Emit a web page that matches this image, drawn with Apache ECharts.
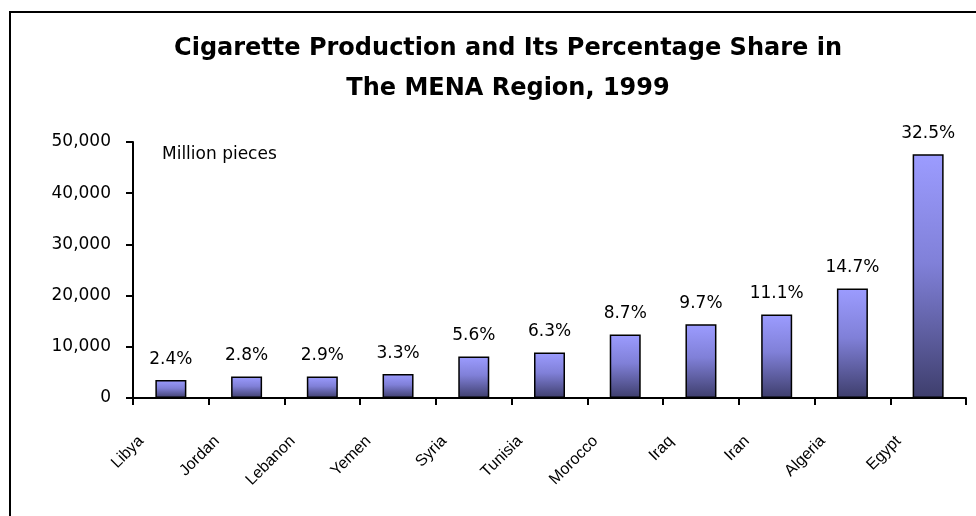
<!DOCTYPE html>
<html>
<head>
<meta charset="utf-8">
<script src="https://cdn.jsdelivr.net/npm/echarts@6/dist/echarts.min.js"></script>
<style>
html, body { margin: 0; padding: 0; background: #ffffff; }
#chart { width: 976px; height: 516px; }
</style>
</head>
<body>
<div id="chart"></div>
<script>
const countries = ['Libya', 'Jordan', 'Lebanon', 'Yemen', 'Syria', 'Tunisia', 'Morocco', 'Iraq', 'Iran', 'Algeria', 'Egypt'];
const production = [3500, 4200, 4200, 4700, 8100, 8900, 12400, 14400, 16300, 21400, 47600];
const shareLabels = ['2.4%', '2.8%', '2.9%', '3.3%', '5.6%', '6.3%', '8.7%', '9.7%', '11.1%', '14.7%', '32.5%'];
const yTicks = [0, 10000, 20000, 30000, 40000, 50000];

const chart = echarts.init(document.getElementById('chart'));

const barColor = new echarts.graphic.LinearGradient(0, 0, 0, 1, [
    { offset: 0, color: '#9c9cff' },
    { offset: 0.45, color: '#8080d8' },
    { offset: 1, color: '#3e3e6c' }
]);

var option = {
    backgroundColor: '#ffffff',
    animation: false,
    title: {
        text: 'Cigarette Production and Its Percentage Share in\nThe MENA Region, 1999',
        left: 503,
        top: 24,
        textAlign: 'center',
        textStyle: {
            fontFamily: 'DejaVu Sans',
            fontWeight: 'bold',
            fontSize: 24,
            lineHeight: 40,
            color: '#000000'
        }
    },
    graphic: [
        {
            type: 'rect',
            shape: { x: 10, y: 12, width: 1100, height: 700 },
            style: { fill: 'none', stroke: '#000000', lineWidth: 2 },
            silent: true
        },
        {
            type: 'text',
            left: 162,
            top: 146,
            style: {
                text: 'Million pieces',
                fontFamily: 'DejaVu Sans',
                fontSize: 17,
                fill: '#000000'
            }
        }
    ],
    grid: {
        left: 133,
        right: 10,
        top: 142,
        bottom: 118
    },
    xAxis: {
        type: 'category',
        data: countries,
        axisLine: { lineStyle: { color: '#000000', width: 2 } },
        axisTick: { show: true, length: 7, lineStyle: { color: '#000000', width: 2 } },
        axisLabel: {
            rotate: 45,
            interval: 0,
            margin: 11,
            align: 'right',
            verticalAlign: 'middle',
            padding: [0, 42, 0, 0],
            fontFamily: 'Liberation Sans',
            fontSize: 16,
            color: '#000000'
        }
    },
    yAxis: {
        type: 'value',
        min: yTicks[0],
        max: yTicks[yTicks.length - 1],
        interval: 10000,
        splitLine: { show: false },
        axisLine: { show: true, lineStyle: { color: '#000000', width: 2 } },
        axisTick: { show: true, length: 7, lineStyle: { color: '#000000', width: 2 } },
        axisLabel: {
            margin: 22,
            fontFamily: 'DejaVu Sans',
            fontSize: 17,
            color: '#000000',
            formatter: function (v) { return v.toLocaleString('en-US'); }
        }
    },
    series: [{
        type: 'bar',
        data: production,
        barWidth: 31,
        itemStyle: {
            color: barColor,
            borderColor: '#000000',
            borderWidth: 1.5
        },
        label: {
            show: true,
            position: 'top',
            distance: 12,
            fontFamily: 'DejaVu Sans',
            fontSize: 17,
            color: '#000000',
            formatter: function (p) { return shareLabels[p.dataIndex]; }
        }
    }]
};

chart.setOption(option);
</script>
</body>
</html>
